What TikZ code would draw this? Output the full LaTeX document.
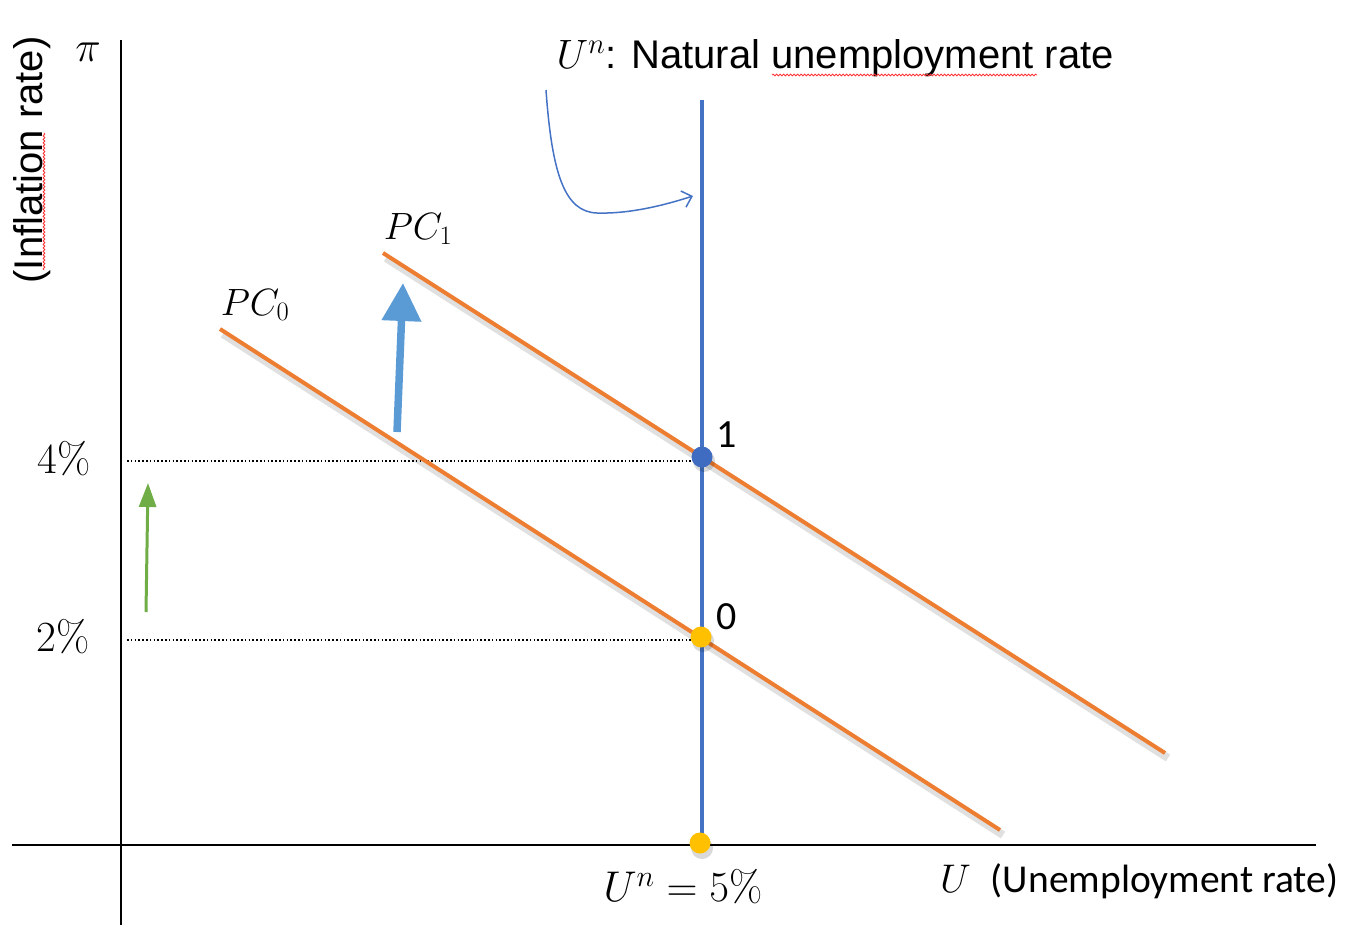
\RequirePackage{fix-cm}
\documentclass[tikz,border=0pt]{standalone}
\usepackage{fontspec}
\newfontfamily\arialf{Liberation Sans}
\newfontfamily\calf{Carlito}
\usetikzlibrary{arrows.meta,decorations.pathmorphing,calc}
\definecolor{lineblue}{HTML}{4472C4}
\definecolor{pcorange}{HTML}{ED7D31}
\definecolor{arrblue}{HTML}{5B9BD5}
\definecolor{arrgreen}{HTML}{70AD47}
\definecolor{ptyellow}{HTML}{FFC000}
\definecolor{ptblue}{HTML}{3F6CC0}
\begin{document}
\begin{tikzpicture}[x=1pt,y=-1pt,
  axis/.style={line width=2pt,black},
  pcline/.style={line width=4pt,pcorange},
  pcshadow/.style={line width=8pt,black,opacity=0.12},
  dotline/.style={line width=1.3pt,dash pattern=on 1.5pt off 2.3pt},
  pt/.style={circle,minimum size=21pt,inner sep=0pt},
  ptshadow/.style={circle,minimum size=22pt,inner sep=0pt,fill=black,opacity=0.15},
  big/.style={font=\fontsize{40}{44}\selectfont},
  mbig/.style={font=\fontsize{43}{47}\selectfont},
  squig/.style={red!80,line width=0.8pt,decorate,decoration={snake,amplitude=0.9pt,segment length=3.5pt}}
]
\useasboundingbox (0,0) rectangle (1359,929);

% axes
\coordinate (ytop) at (121,40);
\coordinate (ybot) at (121,925);
\coordinate (xl) at (12,845);
\coordinate (xr) at (1316,845);
\draw[axis] (ybot) -- (ytop);
\draw[axis] (xl) -- (xr);

% dotted guides
\coordinate (d4a) at (127,461);
\coordinate (d4b) at (700,461);
\coordinate (d2a) at (127,640);
\coordinate (d2b) at (699,640);
\draw[dotline] (d4a) -- (d4b);
\draw[dotline] (d2a) -- (d2b);

% Phillips curves
\coordinate (pc0a) at (220,329);
\coordinate (pc0b) at (1000,830);
\coordinate (pc1a) at (383,253);
\coordinate (pc1b) at (1165,753);
\draw[pcshadow] ($(pc0a)+(3,5)$) -- ($(pc0b)+(3,5)$);
\draw[pcshadow] ($(pc1a)+(3,5)$) -- ($(pc1b)+(3,5)$);
\draw[pcline] (pc0a) -- (pc0b);
\draw[pcline] (pc1a) -- (pc1b);

% vertical natural rate line
\coordinate (vtop) at (702,100);
\coordinate (vbot) at (702,843);
\draw[line width=4.5pt,lineblue] (vtop) -- (vbot);

% points
\node[ptshadow] at (704,461) {};
\node[ptshadow] at (703,641) {};
\node[ptshadow] at (702,848) {};
\node[pt,fill=ptblue] (p1) at (702,457) {};
\node[pt,fill=ptyellow] (p0) at (701,637) {};
\node[pt,fill=ptyellow] (pn) at (700,843) {};

% point labels
\node[font=\calf\fontsize{40}{44}\selectfont] (l1) at (727,435) {1};
\node[font=\calf\fontsize{40}{44}\selectfont] (l0) at (727,617) {0};

% arrows
\coordinate (gA) at (146,612);
\coordinate (gB) at (148,483);
\draw[arrgreen,line width=3pt,-{Triangle[length=24pt,width=17pt]}] (gA) -- (gB);
\coordinate (bA) at (397,432);
\coordinate (bB) at (403,283);
\draw[arrblue,line width=7.5pt,-{Triangle[length=38pt,width=38pt]}] (bA) -- (bB);
\coordinate (cA) at (546,90);
\coordinate (cM) at (597,213);
\coordinate (cB) at (693,196);
\draw[lineblue,line width=1.5pt,-{Straight Barb[length=9pt,width=17pt]}]
  (cA) .. controls (552,175) and (565,212) .. (cM) .. controls (630,214) and (665,205) .. (cB);

% labels
\node[mbig] (pi) at (88,52) {$\pi$};
\node[font=\arialf\fontsize{40}{44}\selectfont,rotate=90] (infl) at (32,160) {(Inflation rate)};
\draw[squig] (44,133) -- (44,270);
\node[anchor=base west,font=\fontsize{41}{45}\selectfont] (title) at (553,68) {$U^n$\arialf\fontsize{40}{44}\selectfont: Natural unemployment rate};
\draw[squig] (772,75) -- (1037,75);
\node[font=\fontsize{38}{42}\selectfont] (pc0) at (255,305) {$PC_0$};
\node[font=\fontsize{38}{42}\selectfont] (pc1) at (418,229) {$PC_1$};
\node[mbig] (y4) at (64,459) {4\%};
\node[mbig] (y2) at (63,637) {2\%};
\node[mbig] (un) at (683,887) {$U^n = 5\%$};
\node[big,anchor=west,inner sep=0pt] (ux) at (940,881) {$U$\hspace{20pt}{\calf\fontsize{39.5}{44}\selectfont (Unemployment rate)}};
\end{tikzpicture}
\end{document}
